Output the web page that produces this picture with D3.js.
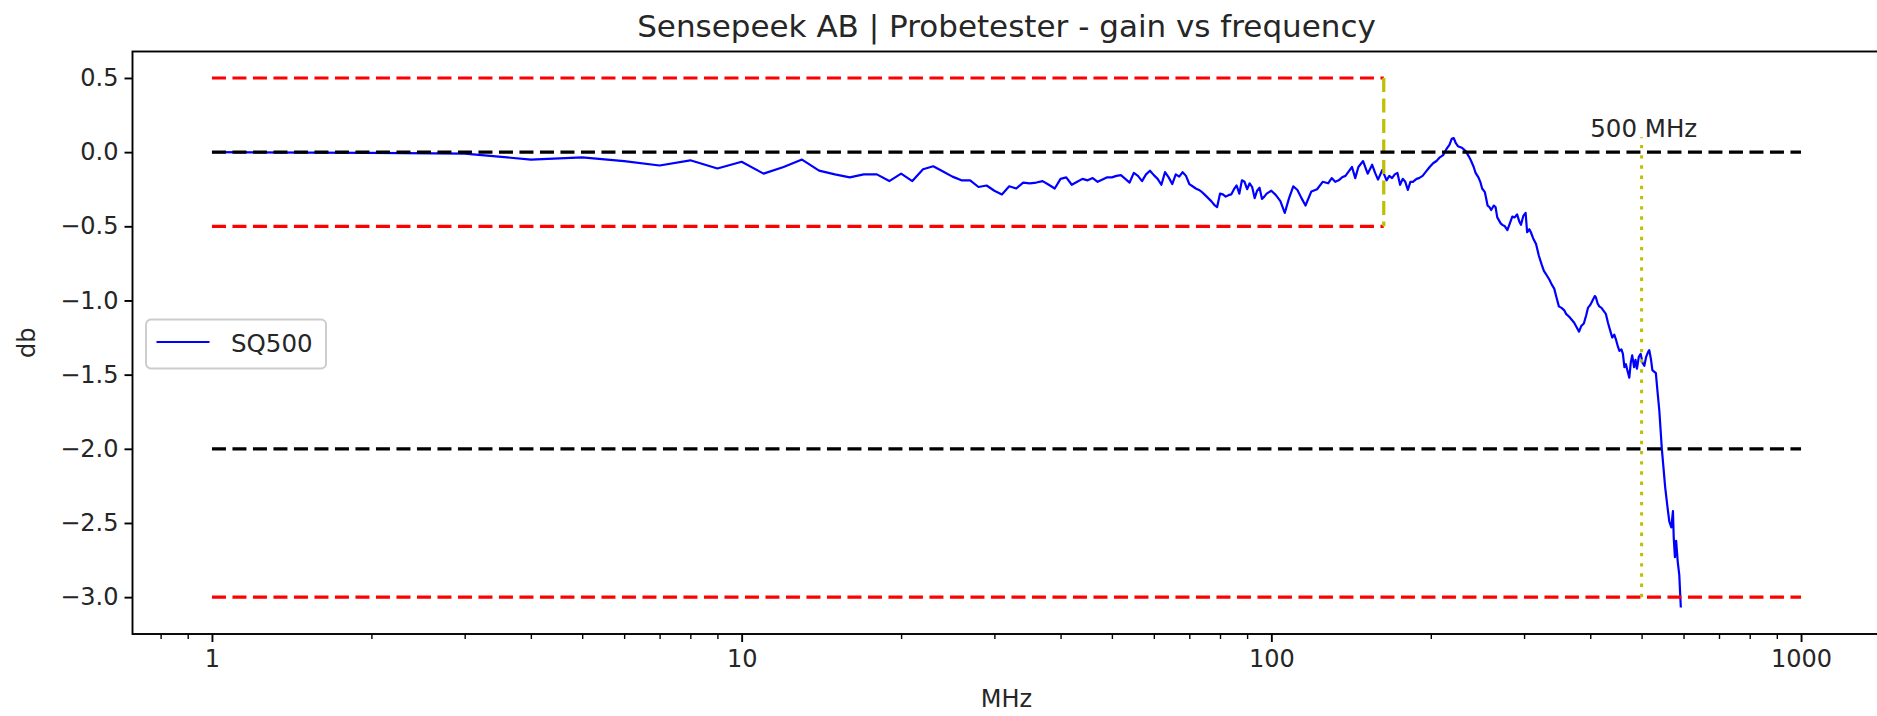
<!DOCTYPE html>
<html lang="en">
<head>
<meta charset="UTF-8">
<title>Sensepeek AB | Probetester - gain vs frequency</title>
<script src="https://d3js.org/d3.v7.min.js"></script>
<style>
    body { margin: 0; background: #fff; }
    svg { display: block; font-family: "DejaVu Sans", sans-serif; }
</style>
</head>
<body>
<div id="chart"></div>
<script>
    const width = 1877;
    const height = 716;
    const margin = { top: 51.5, right: -3.5, bottom: 82, left: 132.5 };

    // SQ500 measured response (MHz, dB)
    const freq = [
        1, 2, 3, 4, 5, 6, 7, 8, 9, 10, 11, 12, 13, 14, 15, 16, 17, 18, 19, 20,
        21, 22, 23, 24, 25, 26, 27, 28, 29, 30, 31, 32, 33, 34, 35, 36, 37, 38, 39, 40,
        41, 42, 43, 44, 45, 46, 47, 48, 49, 50, 51, 52, 53, 54, 55, 56, 57, 58, 59, 60,
        61, 62, 63, 64, 65, 66, 67, 68, 69, 70, 71, 72, 73, 74, 75, 76, 77, 78, 79, 80,
        81, 82, 83, 84, 85, 86, 87, 88, 89, 90, 91, 92, 93, 94, 95, 96, 97, 98, 99, 100,
        102, 104, 106, 108, 110, 112, 114, 116, 119, 122, 125, 128, 130, 132, 134, 136, 138, 140,
        142, 144, 146, 149, 152, 155, 157, 159, 162, 165, 167, 169, 171, 173, 175, 177, 179, 181,
        183, 185, 188, 190, 193, 196, 199, 202, 205, 208, 211, 214, 217, 219, 221, 223, 225, 229,
        233, 236, 238, 241, 243, 246, 248, 250, 253, 256, 258, 260, 263, 265, 267, 269, 271, 273,
        276, 279, 282, 285, 288, 291, 294, 296, 299, 302, 304, 307, 309, 312, 316, 320, 324, 327,
        331, 335, 338, 342, 346, 349, 353, 357, 360, 365, 369, 373, 377, 381, 385, 389, 393, 396,
        400, 404, 408, 410, 413, 416, 420, 424, 428, 432, 436, 440, 444, 447, 451, 454, 458, 461,
        464, 467, 470, 474, 477, 480, 484, 487, 490, 494, 498, 502, 506, 510, 514, 517, 521, 524,
        528, 532, 536, 540, 543, 546, 550, 554, 559, 564, 569, 573, 575, 578, 581, 585, 589, 593
    ];
    const gain = [
        0.00, -0.005, -0.01, -0.05, -0.035, -0.06, -0.09, -0.055, -0.11, -0.065,
        -0.145, -0.10, -0.05, -0.125, -0.15, -0.17, -0.15, -0.15, -0.195, -0.145,
        -0.195, -0.115, -0.095, -0.13, -0.165, -0.19, -0.19, -0.235, -0.225, -0.26,
        -0.285, -0.23, -0.245, -0.205, -0.21, -0.205, -0.195, -0.22, -0.245, -0.18,
        -0.17, -0.22, -0.20, -0.18, -0.19, -0.175, -0.20, -0.185, -0.17, -0.17,
        -0.16, -0.155, -0.18, -0.205, -0.14, -0.16, -0.195, -0.15, -0.125, -0.155,
        -0.18, -0.22, -0.135, -0.17, -0.215, -0.15, -0.165, -0.135, -0.16, -0.215,
        -0.23, -0.245, -0.255, -0.27, -0.29, -0.31, -0.33, -0.355, -0.37, -0.28,
        -0.285, -0.30, -0.29, -0.285, -0.25, -0.225, -0.28, -0.19, -0.20, -0.25,
        -0.21, -0.235, -0.31, -0.26, -0.24, -0.315, -0.30, -0.28, -0.27, -0.26,
        -0.29, -0.33, -0.41, -0.31, -0.23, -0.255, -0.31, -0.36, -0.265, -0.25,
        -0.20, -0.21, -0.175, -0.20, -0.19, -0.17, -0.16, -0.13,
        -0.10, -0.175, -0.10, -0.06, -0.145, -0.085, -0.14, -0.185, -0.12, -0.19,
        -0.16, -0.175, -0.15, -0.14, -0.22, -0.18, -0.20, -0.255,
        -0.20, -0.20, -0.18, -0.175, -0.16, -0.13, -0.10, -0.075, -0.06, -0.035,
        -0.02, 0.02, 0.05, 0.09, 0.095, 0.06, 0.04, 0.03,
        0.005, -0.03, -0.055, -0.10, -0.14, -0.17, -0.20, -0.245, -0.27, -0.36,
        -0.37, -0.39, -0.36, -0.37, -0.44, -0.46, -0.48, -0.49,
        -0.50, -0.525, -0.48, -0.435, -0.44, -0.42, -0.47, -0.49, -0.43, -0.41,
        -0.54, -0.52, -0.54, -0.58, -0.62, -0.70, -0.76, -0.80,
        -0.83, -0.86, -0.89, -0.92, -0.99, -1.04, -1.05, -1.065, -1.09, -1.11,
        -1.13, -1.15, -1.18, -1.21, -1.17, -1.155, -1.10, -1.05,
        -1.03, -1.00, -0.97, -0.98, -1.02, -1.04, -1.05, -1.07, -1.09, -1.15,
        -1.20, -1.25, -1.23, -1.26, -1.31, -1.34, -1.33, -1.36,
        -1.45, -1.43, -1.47, -1.52, -1.42, -1.37, -1.45, -1.40, -1.46, -1.38,
        -1.36, -1.42, -1.44, -1.38, -1.35, -1.335, -1.40, -1.47,
        -1.48, -1.49, -1.62, -1.74, -1.87, -2.00, -2.13, -2.26, -2.38, -2.49,
        -2.53, -2.42, -2.60, -2.73, -2.62, -2.76, -2.85, -3.07
    ];

    // limit / reference lines
    const passLimits = [0.5, -0.5];       // red, 1 MHz .. passband edge
    const passEdge = 163;                 // yellow dashed vertical
    const refLevels = [0, -2];            // black, full span
    const floorLevel = -3;                // red, full span
    const spanFreq = [1, 1000];
    const markerFreq = 500;               // yellow dotted vertical
    const markerTop = 0.1;
    const markerText = "500 MHz";
    const markerTextFreq = 400;

    const xMajor = [1, 10, 100, 1000];
    const xMinor = [0.8, 0.9, 2, 3, 4, 5, 6, 7, 8, 9, 20, 30, 40, 50, 60, 70, 80, 90,
        200, 300, 400, 500, 600, 700, 800, 900];
    const yTicks = [0.5, 0.0, -0.5, -1.0, -1.5, -2.0, -2.5, -3.0];

    const data = freq.map((f, i) => ({ f: f, g: gain[i] }));

    const svg = d3.select("#chart").append("svg")
        .attr("width", width)
        .attr("height", height);

    const x0 = margin.left, x1 = width - margin.right;
    const y0 = margin.top, y1 = height - margin.bottom;

    // matplotlib style 5% autoscale margins
    const lx = [Math.log10(spanFreq[0]), Math.log10(spanFreq[1])];
    const padX = (lx[1] - lx[0]) * 0.05;
    const x = d3.scaleLog()
        .domain([Math.pow(10, lx[0] - padX), Math.pow(10, lx[1] + padX)])
        .range([x0, x1]);

    const yLo = Math.min(d3.min(gain), floorLevel);
    const yHi = Math.max(d3.max(gain), d3.max(passLimits));
    const padY = (yHi - yLo) * 0.05;
    const y = d3.scaleLinear()
        .domain([yLo - padY, yHi + padY])
        .range([y1, y0]);

    const plot = svg.append("g");

    // data line
    plot.append("path")
        .datum(data)
        .attr("fill", "none")
        .attr("stroke", "#0000ff")
        .attr("stroke-width", 2.2)
        .attr("stroke-linejoin", "round")
        .attr("d", d3.line().x(d => x(d.f)).y(d => y(d.g)));

    const dash = "14 6.5";

    function hline(v, a, b, color) {
        plot.append("line")
            .attr("x1", x(a)).attr("x2", x(b))
            .attr("y1", y(v)).attr("y2", y(v))
            .attr("stroke", color)
            .attr("stroke-width", 3.2)
            .attr("stroke-dasharray", dash);
    }

    passLimits.forEach(v => hline(v, spanFreq[0], passEdge, "#ff0000"));

    plot.append("line")
        .attr("x1", x(passEdge)).attr("x2", x(passEdge))
        .attr("y1", y(d3.max(passLimits))).attr("y2", y(d3.min(passLimits)))
        .attr("stroke", "#bfbf00")
        .attr("stroke-width", 3.2)
        .attr("stroke-dasharray", dash);

    refLevels.forEach(v => hline(v, spanFreq[0], spanFreq[1], "#000000"));
    hline(floorLevel, spanFreq[0], spanFreq[1], "#ff0000");

    plot.append("line")
        .attr("x1", x(markerFreq)).attr("x2", x(markerFreq))
        .attr("y1", y(floorLevel)).attr("y2", y(markerTop))
        .attr("stroke", "#bfbf00")
        .attr("stroke-width", 3)
        .attr("stroke-dasharray", "3.4 6.8");

    plot.append("text")
        .attr("x", x(markerTextFreq))
        .attr("y", y(markerTop))
        .attr("font-size", 24.5)
        .attr("fill", "#262626")
        .text(markerText);

    // axes
    const xAxis = svg.append("g")
        .attr("transform", `translate(0,${y1})`)
        .call(d3.axisBottom(x).tickValues(xMajor).tickFormat(d3.format("d"))
            .tickSize(8).tickPadding(8));
    xAxis.selectAll("text").attr("font-size", 24).attr("fill", "#262626")
        .attr("font-family", "DejaVu Sans");
    xAxis.selectAll(".tick line").attr("stroke-width", 1.9);

    const xMinorAxis = svg.append("g")
        .attr("transform", `translate(0,${y1})`)
        .call(d3.axisBottom(x).tickValues(xMinor).tickFormat("").tickSize(5));
    xMinorAxis.selectAll(".tick line").attr("stroke-width", 1.4);

    const yAxis = svg.append("g")
        .attr("transform", `translate(${x0},0)`)
        .call(d3.axisLeft(y).tickValues(yTicks).tickFormat(d3.format(".1f"))
            .tickSize(8).tickPadding(6));
    yAxis.selectAll("text").attr("font-size", 24).attr("fill", "#262626")
        .attr("font-family", "DejaVu Sans");
    yAxis.selectAll(".tick line").attr("stroke-width", 1.9);

    svg.selectAll(".domain").remove();

    // frame
    svg.append("rect")
        .attr("x", x0).attr("y", y0)
        .attr("width", x1 - x0).attr("height", y1 - y0)
        .attr("fill", "none")
        .attr("stroke", "#000")
        .attr("stroke-width", 1.9);

    // labels
    svg.append("text")
        .attr("x", (x0 + x1) / 2)
        .attr("y", 37)
        .attr("text-anchor", "middle")
        .attr("font-size", 31)
        .attr("fill", "#262626")
        .text("Sensepeek AB | Probetester - gain vs frequency");

    svg.append("text")
        .attr("x", (x0 + x1) / 2)
        .attr("y", 707)
        .attr("text-anchor", "middle")
        .attr("font-size", 24)
        .attr("fill", "#262626")
        .text("MHz");

    svg.append("text")
        .attr("transform", `translate(35,${(y0 + y1) / 2}) rotate(-90)`)
        .attr("text-anchor", "middle")
        .attr("font-size", 24)
        .attr("fill", "#262626")
        .text("db");

    // legend
    const legend = svg.append("g").attr("transform", "translate(146,319.5)");
    legend.append("rect")
        .attr("width", 180).attr("height", 49)
        .attr("rx", 5)
        .attr("fill", "#fff").attr("fill-opacity", 0.8)
        .attr("stroke", "#cccccc").attr("stroke-width", 1.9);
    legend.append("line")
        .attr("x1", 10.5).attr("x2", 63.5)
        .attr("y1", 22.5).attr("y2", 22.5)
        .attr("stroke", "#0000ff").attr("stroke-width", 2.2);
    legend.append("text")
        .attr("x", 85).attr("y", 32)
        .attr("font-size", 24.5)
        .attr("fill", "#262626")
        .text("SQ500");
</script>
</body>
</html>
